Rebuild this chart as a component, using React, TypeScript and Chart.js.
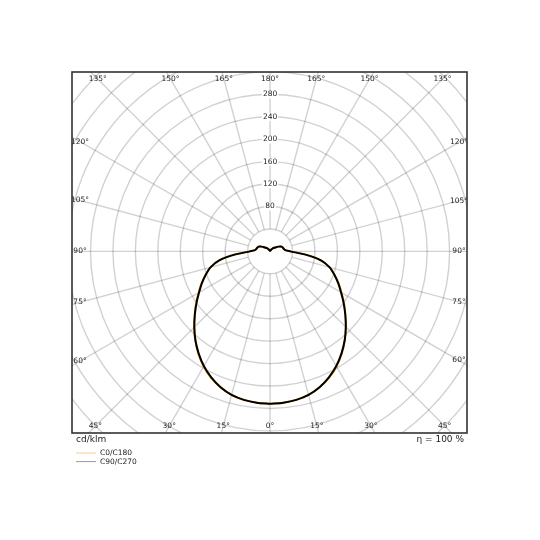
import { useEffect, useRef } from 'react'
import Chart from 'chart.js/auto'

// gamma angles (deg, 0 = straight down) and intensities in cd/klm
const ANGLES = [
  0, 5, 10, 15, 20, 25, 30, 35, 40, 45, 50, 55, 60, 65, 70, 75, 80, 85, 90,
  95, 100, 105, 110, 115, 120, 125, 130, 135, 140, 145, 150, 155, 160, 165, 170, 175, 180,
]
const C0_C180 = [
  272, 271, 269, 265, 258, 249, 237, 223, 207, 191, 175, 161, 147, 135, 122, 110, 92, 62, 36,
  27, 25, 24, 23, 21, 17, 13, 10, 8, 6, 4, 3, 2, 1, 1, 0.5, 0.3, 0,
]
const C90_C270 = [
  272, 271, 269, 265, 258, 248, 236, 222, 207, 191, 175, 160, 146, 134, 122, 110, 92, 62, 36,
  27, 25, 24, 23, 21, 17, 13, 10, 8, 6, 4, 3, 2, 1, 1, 0.5, 0.3, 0,
]
const RADIAL_TICKS = [80, 120, 160, 200, 240, 280]
const GRID_STEP = 40
const ANGLE_STEP = 15

const FONT = "'DejaVu Sans', sans-serif"

// both halves of a plane, from 0° up the right side and back down the left side
function planeToPoints(values: number[]) {
  const rad = (a: number) => (a * Math.PI) / 180
  const right = ANGLES.map((a, i) => ({ x: values[i] * Math.sin(rad(a)), y: -values[i] * Math.cos(rad(a)) }))
  const left = ANGLES.map((a, i) => ({ x: -values[i] * Math.sin(rad(a)), y: -values[i] * Math.cos(rad(a)) })).reverse()
  return [...right, ...left]
}

const polarGrid = {
  id: 'polarGrid',
  beforeDatasetsDraw(chart: any) {
    const { ctx, chartArea: area, scales } = chart
    const xs = scales.x
    const ys = scales.y
    const cx = xs.getPixelForValue(0)
    const cy = ys.getPixelForValue(0)
    const unit = xs.getPixelForValue(1) - cx
    ctx.save()
    ctx.beginPath()
    ctx.rect(area.left, area.top, area.right - area.left, area.bottom - area.top)
    ctx.clip()
    ctx.strokeStyle = 'rgba(0,0,0,0.18)'
    ctx.lineWidth = 1.4
    for (let r = GRID_STEP; r <= 520; r += GRID_STEP) {
      ctx.beginPath()
      ctx.arc(cx, cy, r * unit, 0, Math.PI * 2)
      ctx.stroke()
    }
    for (let a = 0; a < 360; a += ANGLE_STEP) {
      const t = (a * Math.PI) / 180
      ctx.beginPath()
      ctx.moveTo(cx + Math.sin(t) * GRID_STEP * unit, cy + Math.cos(t) * GRID_STEP * unit)
      ctx.lineTo(cx + Math.sin(t) * 700 * unit, cy + Math.cos(t) * 700 * unit)
      ctx.stroke()
    }
    ctx.restore()
  },
  afterDatasetsDraw(chart: any) {
    const { ctx, chartArea: area, scales } = chart
    const cx = scales.x.getPixelForValue(0)
    const cy = scales.y.getPixelForValue(0)
    ctx.save()
    ctx.beginPath()
    ctx.rect(area.left, area.top, area.right - area.left, area.bottom - area.top)
    ctx.clip()
    ctx.font = `7.5px ${FONT}`
    ctx.textAlign = 'center'
    ctx.textBaseline = 'middle'
    // radial tick labels on the 180° line
    RADIAL_TICKS.forEach((v) => {
      const y = scales.y.getPixelForValue(v)
      const w = ctx.measureText(String(v)).width
      ctx.fillStyle = '#fff'
      ctx.fillRect(cx - w / 2 - 1, y - 4, w + 2, 8)
      ctx.fillStyle = '#222'
      ctx.fillText(String(v), cx, y)
    })
    // angle labels where each ray meets a slightly inset frame
    const L = area.left + 8
    const R = area.right - 8
    const T = area.top + 7
    const B = area.bottom - 7
    for (let a = 0; a <= 180; a += ANGLE_STEP) {
      const sides = a === 0 || a === 180 ? [1] : [-1, 1]
      sides.forEach((s) => {
        const t = (a * Math.PI) / 180
        const dx = s * Math.sin(t)
        const dy = Math.cos(t)
        const cands: number[] = []
        if (dx > 1e-6) cands.push((R - cx) / dx)
        if (dx < -1e-6) cands.push((L - cx) / dx)
        if (dy > 1e-6) cands.push((B - cy) / dy)
        if (dy < -1e-6) cands.push((T - cy) / dy)
        const k = Math.min(...cands)
        ctx.fillStyle = '#222'
        ctx.fillText(`${a}°`, cx + dx * k, cy + dy * k)
      })
    }
    ctx.restore()
  },
  afterDraw(chart: any) {
    const { ctx, chartArea: area } = chart
    ctx.save()
    ctx.strokeStyle = '#333'
    ctx.lineWidth = 1.6
    ctx.strokeRect(area.left, area.top, area.right - area.left, area.bottom - area.top)
    ctx.fillStyle = '#222'
    ctx.textBaseline = 'middle'
    ctx.font = `9px ${FONT}`
    ctx.textAlign = 'left'
    ctx.fillText('cd/klm', area.left + 4, area.bottom + 7)
    ctx.textAlign = 'right'
    ctx.fillText('η = 100 %', area.right - 3, area.bottom + 7)
    // legend
    const swatches = ['rgba(245,166,35,0.5)', '#999']
    ctx.font = `7.5px ${FONT}`
    ctx.textAlign = 'left'
    chart.data.datasets.forEach((ds: any, i: number) => {
      const y = area.bottom + 20 + i * 8.6
      ctx.strokeStyle = swatches[i]
      ctx.lineWidth = 1
      ctx.beginPath()
      ctx.moveTo(area.left + 4, y)
      ctx.lineTo(area.left + 24, y)
      ctx.stroke()
      ctx.fillStyle = '#222'
      ctx.fillText(ds.label, area.left + 28, y)
    })
    ctx.restore()
  },
}

export default function App() {
  const chartRef = useRef<HTMLCanvasElement>(null)
  const chartInstance = useRef<Chart | null>(null)

  useEffect(() => {
    if (!chartRef.current) return
    document.body.style.margin = '0'
    if (chartInstance.current) {
      chartInstance.current.destroy()
      chartInstance.current = null
    }
    const ctx = chartRef.current.getContext('2d')
    if (!ctx) return

    chartInstance.current = new Chart(ctx, {
      type: 'scatter',
      data: {
        datasets: [
          {
            label: 'C0/C180',
            data: planeToPoints(C0_C180),
            showLine: true,
            borderColor: '#f5a623',
            borderWidth: 2,
            pointRadius: 0,
            tension: 0.25,
            order: 2,
          },
          {
            label: 'C90/C270',
            data: planeToPoints(C90_C270),
            showLine: true,
            borderColor: '#000',
            borderWidth: 2,
            pointRadius: 0,
            tension: 0.25,
            order: 1,
          },
        ],
      },
      options: {
        animation: false,
        responsive: true,
        maintainAspectRatio: false,
        layout: { padding: { left: 72, top: 72, right: 73, bottom: 107 } },
        scales: {
          x: { type: 'linear', display: false, min: -353, max: 351 },
          y: { type: 'linear', display: false, min: -324, max: 320 },
        },
        plugins: {
          legend: { display: false },
          tooltip: { enabled: false },
        },
      },
      plugins: [polarGrid],
    })

    return () => {
      if (chartInstance.current) {
        chartInstance.current.destroy()
        chartInstance.current = null
      }
    }
  }, [])

  return (
    <div style={{ width: '540px', height: '540px' }}>
      <canvas ref={chartRef} />
    </div>
  )
}
